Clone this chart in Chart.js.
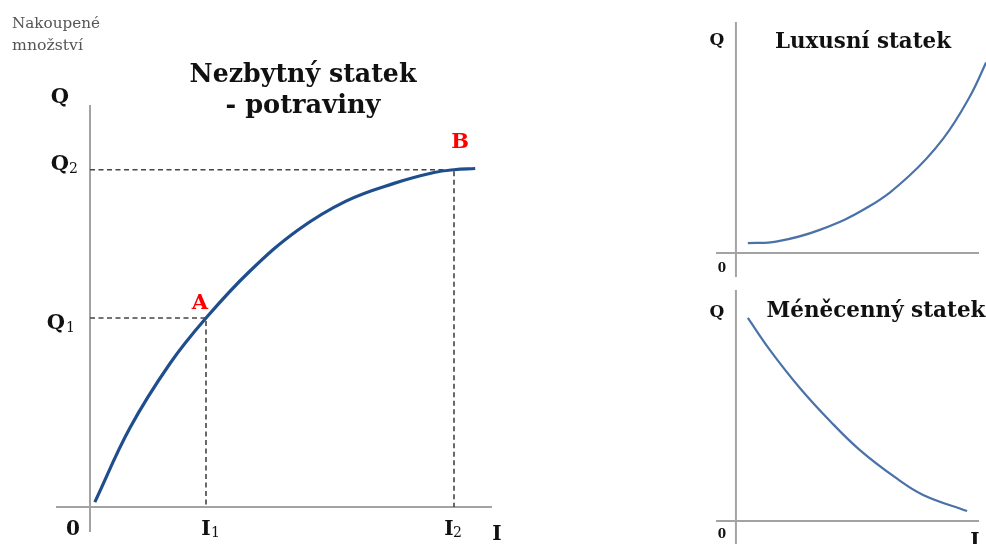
<!DOCTYPE html>
<html>
<head>
<meta charset="utf-8">
<script src="https://cdn.jsdelivr.net/npm/chart.js@4.4.1/dist/chart.umd.min.js"></script>
<style>
  html, body { margin:0; padding:0; background:#fff; width:986px; height:544px; overflow:hidden; }
  canvas { position:absolute; }
</style>
</head>
<body>
<canvas id="c1" width="540" height="544" style="left:0;top:0"></canvas>
<canvas id="c2" width="296" height="280" style="left:690px;top:0"></canvas>
<canvas id="c3" width="296" height="264" style="left:690px;top:280px"></canvas>
<script>
// ---- data (income I vs. quantity Q) ----
const necI = [1.2, 10, 20, 29, 40, 52, 64, 76, 86, 91, 96.3];
const necQ = [1.2, 19.7, 35.7, 47, 58.7, 68.9, 76.1, 80.5, 83.2, 83.9, 84.2];
const pointA = [29, 47];     // I1, Q1
const pointB = [91, 83.9];   // I2, Q2
const luxI = [4.9, 16.5, 34.2, 54.7, 71.2, 85.2, 95.9, 102.9, 106];
const luxQ = [4.3, 4.9, 9.9, 20.1, 33.3, 49.4, 67.1, 82.5, 90.3];
const infI = [4.9, 14.0, 26.3, 38.7, 51.0, 66.3, 77.0, 95.1];
const infQ = [87.9, 74.0, 57.6, 43.3, 30.7, 18.3, 11.3, 4.3];

const SERIF = "'DejaVu Serif', 'Liberation Serif', serif";
const pts = (xs, ys) => xs.map((x, i) => ({x, y: ys[i]}));

function txt(ctx, s, x, y, o) {
  o = o || {};
  const weight = o.weight || 'bold';
  const fam = o.family || SERIF;
  let size = o.size || 20;
  if (o.width) {
    ctx.font = weight + ' 100px ' + fam;
    size = 100 * o.width / ctx.measureText(s).width;
  }
  ctx.font = weight + ' ' + size + 'px ' + fam;
  ctx.fillStyle = o.color || '#111';
  ctx.textAlign = o.align || 'center';
  ctx.textBaseline = 'alphabetic';
  ctx.fillText(s, x, y);
}

const axesPlugin = {
  id: 'crossAxes',
  beforeDatasetsDraw(chart) {
    const {ctx, chartArea: a, scales: {x, y}} = chart;
    const x0 = x.getPixelForValue(0), y0 = y.getPixelForValue(0);
    ctx.save();
    ctx.strokeStyle = '#a3a3a3';
    ctx.lineWidth = 2;
    ctx.beginPath();
    ctx.moveTo(a.left, y0); ctx.lineTo(a.right, y0);
    ctx.moveTo(x0, a.top); ctx.lineTo(x0, a.bottom);
    ctx.stroke();
    ctx.restore();
  }
};

function baseOpts(padding, xr, yr) {
  return {
    responsive: false, animation: false, events: [],
    layout: {padding},
    plugins: {legend: {display: false}, tooltip: {enabled: false}},
    scales: {
      x: {type: 'linear', min: xr[0], max: xr[1], display: false},
      y: {type: 'linear', min: yr[0], max: yr[1], display: false}
    }
  };
}

// ---- left chart: necessity ----
new Chart(document.getElementById('c1'), {
  type: 'line',
  data: {datasets: [
    {data: pts(necI, necQ), borderColor: '#1f4e8c', borderWidth: 3.2, pointRadius: 0, tension: 0.4, fill: false},
    {data: [{x: 0, y: pointA[1]}, {x: pointA[0], y: pointA[1]}, {x: pointA[0], y: 0}], borderColor: '#444', borderWidth: 1.6, borderDash: [5, 3.5], pointRadius: 0, tension: 0},
    {data: [{x: 0, y: pointB[1]}, {x: pointB[0], y: pointB[1]}, {x: pointB[0], y: 0}], borderColor: '#444', borderWidth: 1.6, borderDash: [5, 3.5], pointRadius: 0, tension: 0}
  ]},
  options: baseOpts({left: 56, right: 48, top: 105, bottom: 12}, [-8.5, 100.5], [-6.22, 100]),
  plugins: [axesPlugin, {
    id: 'labels1',
    afterDraw(chart) {
      const {ctx, scales: {x, y}} = chart;
      const xA = x.getPixelForValue(pointA[0]), yA = y.getPixelForValue(pointA[1]);
      const xB = x.getPixelForValue(pointB[0]), yB = y.getPixelForValue(pointB[1]);
      const x0 = x.getPixelForValue(0), y0 = y.getPixelForValue(0);
      ctx.save();
      txt(ctx, 'Nakoupené', 12, 28, {weight: 'normal', color: '#555', width: 88, align: 'left'});
      txt(ctx, 'množství', 12, 50, {weight: 'normal', color: '#555', width: 71, align: 'left'});
      txt(ctx, 'Nezbytný statek', 303, 82, {width: 227});
      txt(ctx, '- potraviny', 303, 113, {width: 155});
      txt(ctx, 'Q', x0 - 30, 103, {size: 21});
      // Q2
      txt(ctx, 'Q', x0 - 21, yB + 0, {size: 21, align: 'right'});
      txt(ctx, '2', x0 - 21, yB + 3, {size: 14, weight: 'normal', align: 'left'});
      // Q1
      txt(ctx, 'Q', x0 - 25, yA + 11, {size: 21, align: 'right'});
      txt(ctx, '1', x0 - 24, yA + 14, {size: 14, weight: 'normal', align: 'left'});
      // 0, I1, I2, I
      txt(ctx, '0', x0 - 17, y0 + 28, {size: 20});
      txt(ctx, 'I', xA, y0 + 28, {size: 20});
      txt(ctx, '1', xA + 5, y0 + 30, {size: 14, weight: 'normal', align: 'left'});
      txt(ctx, 'I', xB - 5, y0 + 28, {size: 20});
      txt(ctx, '2', xB - 1, y0 + 30, {size: 14, weight: 'normal', align: 'left'});
      txt(ctx, 'I', 497, y0 + 33, {size: 20});
      // points
      txt(ctx, 'A', xA - 6, yA - 9, {size: 21, color: '#ff0000'});
      txt(ctx, 'B', xB + 6, yB - 22, {size: 21, color: '#ff0000'});
      ctx.restore();
    }
  }]
});

// ---- right top: luxury good ----
new Chart(document.getElementById('c2'), {
  type: 'line',
  data: {datasets: [
    {data: pts(luxI, luxQ), borderColor: '#4a72a8', borderWidth: 2.2, pointRadius: 0, tension: 0.4, clip: false}
  ]},
  options: baseOpts({left: 26, right: 7, top: 22, bottom: 3}, [-8.2, 100], [-10.4, 100]),
  plugins: [axesPlugin, {
    id: 'labels2',
    afterDraw(chart) {
      const {ctx, scales: {x, y}} = chart;
      const x0 = x.getPixelForValue(0), y0 = y.getPixelForValue(0);
      ctx.save();
      txt(ctx, 'Q', x0 - 19, 45, {size: 17});
      txt(ctx, '0', x0 - 14, y0 + 19, {size: 12});
      txt(ctx, 'Luxusní statek', 173, 48, {width: 176});
      ctx.restore();
    }
  }]
});

// ---- right bottom: inferior good ----
new Chart(document.getElementById('c3'), {
  type: 'line',
  data: {datasets: [
    {data: pts(infI, infQ), borderColor: '#4a72a8', borderWidth: 2.2, pointRadius: 0, tension: 0.4}
  ]},
  options: baseOpts({left: 26, right: 7, top: 10, bottom: 0}, [-8.2, 100], [-9.96, 100]),
  plugins: [axesPlugin, {
    id: 'labels3',
    afterDraw(chart) {
      const {ctx, scales: {x, y}} = chart;
      const x0 = x.getPixelForValue(0), y0 = y.getPixelForValue(0);
      ctx.save();
      txt(ctx, 'Q', x0 - 19, 37, {size: 17});
      txt(ctx, '0', x0 - 14, y0 + 17, {size: 12});
      txt(ctx, 'Méněcenný statek', 186, 37, {width: 219});
      txt(ctx, 'I', 285, y0 + 26, {size: 20});
      ctx.restore();
    }
  }]
});
</script>
</body>
</html>
